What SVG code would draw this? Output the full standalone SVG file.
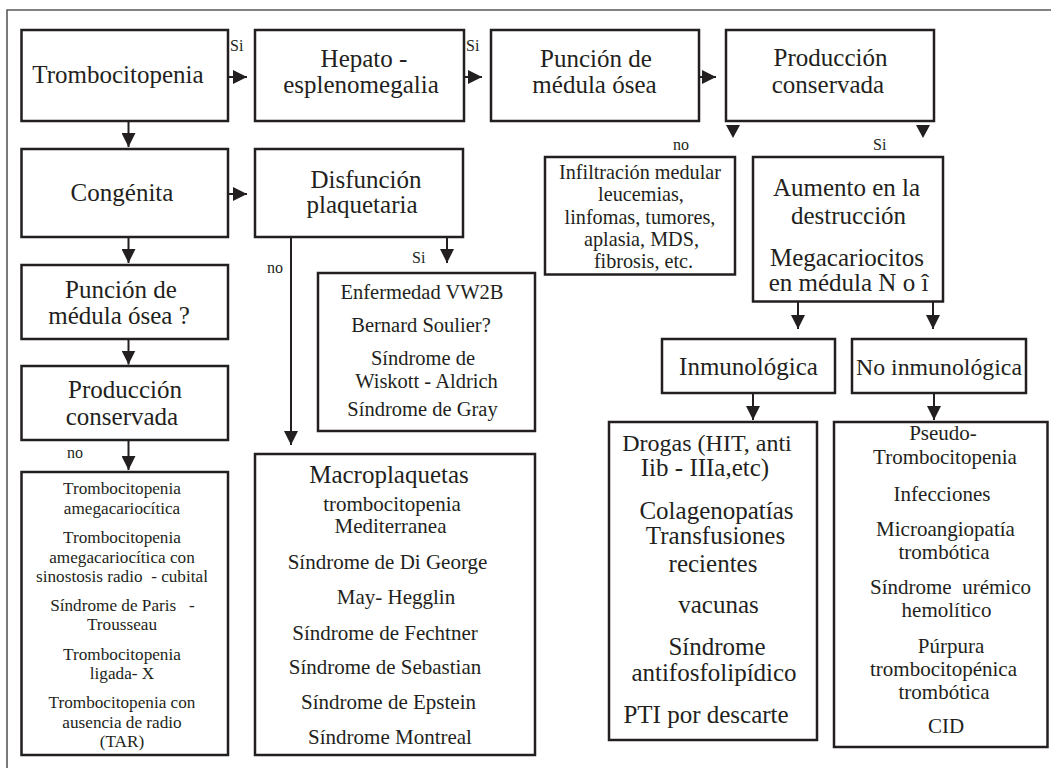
<svg xmlns="http://www.w3.org/2000/svg" width="1051" height="768" viewBox="0 0 1051 768">
  <defs>
    <style>
      .box { fill: #ffffff; stroke: #231f20; stroke-width: 2.5; }
      .frame { stroke: #5a5a5a; stroke-width: 1.6; fill: none; }
      .c { stroke: #231f20; stroke-width: 2; fill: none; }
      .head { fill: #231f20; }
      text { font-family: "Liberation Serif", "Times New Roman", serif; fill: #231f20; text-anchor: middle; }
      .pre { white-space: pre; }
      .t1 { font-size: 25px; }
      .t2 { font-size: 21px; }
      .t3 { font-size: 17.2px; }
      .t4 { font-size: 20.5px; }
      .t5 { font-size: 20.2px; }
      .lbl { font-size: 16px; text-anchor: start; }
    </style>
    <marker id="arrow" viewBox="0 0 14 14" refX="14" refY="7" markerWidth="14" markerHeight="14" markerUnits="userSpaceOnUse" orient="auto">
      <path d="M0,0 L14,7 L0,14 Z" class="head"/>
    </marker>
  </defs>

  <rect width="1051" height="768" fill="#ffffff"/>

  <!-- page frame: top and left rules only -->
  <path class="frame" d="M7,768 L7,10 L1051,10"/>

  <!-- connectors -->
  <g id="connectors">
    <line class="c" x1="228" y1="77" x2="247" y2="77" marker-end="url(#arrow)"/>
    <line class="c" x1="464" y1="77" x2="482" y2="77" marker-end="url(#arrow)"/>
    <line class="c" x1="699" y1="77" x2="716" y2="77" marker-end="url(#arrow)"/>
    <line class="c" x1="128.5" y1="121" x2="128.5" y2="147" marker-end="url(#arrow)"/>
    <line class="c" x1="228" y1="194" x2="247" y2="194" marker-end="url(#arrow)"/>
    <line class="c" x1="128.5" y1="237" x2="128.5" y2="263" marker-end="url(#arrow)"/>
    <line class="c" x1="128.5" y1="339" x2="128.5" y2="364.5" marker-end="url(#arrow)"/>
    <line class="c" x1="128.5" y1="440" x2="128.5" y2="470" marker-end="url(#arrow)"/>
    <line class="c" x1="291" y1="237" x2="291" y2="445" marker-end="url(#arrow)"/>
    <line class="c" x1="447" y1="237" x2="447" y2="263" marker-end="url(#arrow)"/>
    <polygon class="head" points="726,125 740,125 733,138"/>
    <polygon class="head" points="916,125 930,125 923,138"/>
    <line class="c" x1="798" y1="301" x2="798" y2="329" marker-end="url(#arrow)"/>
    <line class="c" x1="933" y1="301" x2="933" y2="329" marker-end="url(#arrow)"/>
    <line class="c" x1="753" y1="393" x2="753" y2="420" marker-end="url(#arrow)"/>
    <line class="c" x1="934" y1="393" x2="934" y2="420" marker-end="url(#arrow)"/>

    <text class="lbl" x="230" y="51">Si</text>
    <text class="lbl" x="466" y="51">Si</text>
    <text class="lbl" x="673" y="150">no</text>
    <text class="lbl" x="873" y="150">Si</text>
    <text class="lbl" x="267" y="273">no</text>
    <text class="lbl" x="412" y="263">Si</text>
    <text class="lbl" x="67" y="458">no</text>
  </g>

  <!-- nodes -->
  <g id="trombocitopenia">
    <rect class="box" x="21.5" y="30" width="206.5" height="91"/>
    <text class="t1" x="118" y="83">Trombocitopenia</text>
  </g>

  <g id="hepatoesplenomegalia">
    <rect class="box" x="255" y="30" width="209" height="91"/>
    <text class="t1" x="364" y="67">Hepato -</text>
    <text class="t1" x="361" y="93">esplenomegalia</text>
  </g>

  <g id="puncion-medula">
    <rect class="box" x="491" y="30" width="208" height="91"/>
    <text class="t1" x="596" y="67">Punción de</text>
    <text class="t1" x="594.5" y="93">médula ósea</text>
  </g>

  <g id="produccion-conservada">
    <rect class="box" x="726" y="30" width="208" height="91"/>
    <text class="t1" x="830.5" y="66">Producción</text>
    <text class="t1" x="828" y="93">conservada</text>
  </g>

  <g id="congenita">
    <rect class="box" x="21.5" y="149" width="206.5" height="88"/>
    <text class="t1" x="122" y="201">Congénita</text>
  </g>

  <g id="disfuncion-plaquetaria">
    <rect class="box" x="255" y="149" width="208" height="88"/>
    <text class="t1" x="366" y="187.5">Disfunción</text>
    <text class="t1" x="362" y="213">plaquetaria</text>
  </g>

  <g id="puncion-congenita">
    <rect class="box" x="21.5" y="265" width="206.5" height="74"/>
    <text class="t1" x="121" y="297.5">Punción de</text>
    <text class="t1" x="119" y="323.5">médula ósea ?</text>
  </g>

  <g id="produccion-congenita">
    <rect class="box" x="21.5" y="366" width="206.5" height="74"/>
    <text class="t1" x="125" y="398">Producción</text>
    <text class="t1" x="122" y="425">conservada</text>
  </g>

  <g id="causas-congenitas">
    <rect class="box" x="21.5" y="472" width="206.5" height="283"/>
    <text class="t3" x="122" y="494">Trombocitopenia</text>
    <text class="t3" x="122" y="513.5">amegacariocítica</text>
    <text class="t3" x="122" y="543">Trombocitopenia</text>
    <text class="t3" x="122" y="562.5">amegacariocítica con</text>
    <text class="t3 pre" x="122" y="582">sinostosis radio  - cubital</text>
    <text class="t3 pre" x="122.5" y="611">Síndrome de Paris   -</text>
    <text class="t3" x="122" y="630">Trousseau</text>
    <text class="t3" x="122" y="660">Trombocitopenia</text>
    <text class="t3" x="122" y="679">ligada- X</text>
    <text class="t3" x="122" y="708">Trombocitopenia con</text>
    <text class="t3" x="122" y="727.5">ausencia de radio</text>
    <text class="t3" x="122" y="747">(TAR)</text>
  </g>

  <g id="disfuncion-si">
    <rect class="box" x="318" y="273" width="217" height="158"/>
    <text class="t4" x="422" y="299">Enfermedad VW2B</text>
    <text class="t4" x="421" y="332">Bernard Soulier?</text>
    <text class="t4" x="423" y="365">Síndrome de</text>
    <text class="t4" x="426.5" y="388">Wiskott - Aldrich</text>
    <text class="t4" x="422.5" y="416">Síndrome de Gray</text>
  </g>

  <g id="macroplaquetas">
    <rect class="box" x="255" y="454" width="280" height="301"/>
    <text class="t1" x="389" y="482.5">Macroplaquetas</text>
    <text class="t2" x="392" y="511">trombocitopenia</text>
    <text class="t2" x="390.5" y="533">Mediterranea</text>
    <text class="t2" x="387.5" y="568.5">Síndrome de Di George</text>
    <text class="t2" x="396" y="604">May- Hegglin</text>
    <text class="t2" x="385" y="639.5">Síndrome de Fechtner</text>
    <text class="t2" x="385" y="674">Síndrome de Sebastian</text>
    <text class="t2" x="388.5" y="709">Síndrome de Epstein</text>
    <text class="t2" x="390" y="743.5">Síndrome Montreal</text>
  </g>

  <g id="infiltracion-medular">
    <rect class="box" x="545" y="157" width="190" height="117.5"/>
    <text class="t5" x="640" y="179">Infiltración medular</text>
    <text class="t5" x="641" y="201.3">leucemias,</text>
    <text class="t5" x="640" y="223.6">linfomas, tumores,</text>
    <text class="t5" x="641.5" y="245.9">aplasia, MDS,</text>
    <text class="t5" x="643.5" y="268.2">fibrosis, etc.</text>
  </g>

  <g id="aumento-destruccion">
    <rect class="box" x="753" y="157" width="190" height="144.5"/>
    <text class="t1" x="846.5" y="196">Aumento en la</text>
    <text class="t1" x="848.5" y="224">destrucción</text>
    <text class="t1" x="847" y="266">Megacariocitos</text>
    <text class="t1" x="848.5" y="291">en médula N o î</text>
  </g>

  <g id="inmunologica">
    <rect class="box" x="662" y="339" width="173" height="54"/>
    <text class="t1" x="748.5" y="374.5">Inmunológica</text>
  </g>

  <g id="no-inmunologica">
    <rect class="box" x="852" y="339" width="174" height="54"/>
    <text class="t1" x="939" y="374.5" style="font-size:23.8px">No inmunológica</text>
  </g>

  <g id="causas-inmunologicas">
    <rect class="box" x="609" y="422" width="208" height="318"/>
    <text class="t1" x="707" y="450.5" style="font-size:24px">Drogas (HIT, anti</text>
    <text class="t1" x="705" y="475.5">Iib - IIIa,etc)</text>
    <text class="t1" x="716.5" y="518.5">Colagenopatías</text>
    <text class="t1" x="715.5" y="543.5">Transfusiones</text>
    <text class="t1" x="713" y="572">recientes</text>
    <text class="t1" x="718.5" y="613">vacunas</text>
    <text class="t1" x="717" y="655">Síndrome</text>
    <text class="t1" x="714" y="680.5">antifosfolipídico</text>
    <text class="t1" x="706" y="723">PTI por descarte</text>
  </g>

  <g id="causas-no-inmunologicas">
    <rect class="box" x="834" y="422" width="213.5" height="325"/>
    <text class="t2" x="943" y="440">Pseudo-</text>
    <text class="t2" x="945" y="464">Trombocitopenia</text>
    <text class="t2" x="942" y="500.5">Infecciones</text>
    <text class="t2" x="945.5" y="535.5">Microangiopatía</text>
    <text class="t2" x="944" y="558.5">trombótica</text>
    <text class="t2 pre" x="950.5" y="594">Síndrome  urémico</text>
    <text class="t2" x="946.5" y="617">hemolítico</text>
    <text class="t2" x="951" y="653">Púrpura</text>
    <text class="t2" x="943.5" y="675.5">trombocitopénica</text>
    <text class="t2" x="944" y="699">trombótica</text>
    <text class="t2" x="946" y="733">CID</text>
  </g>
</svg>
